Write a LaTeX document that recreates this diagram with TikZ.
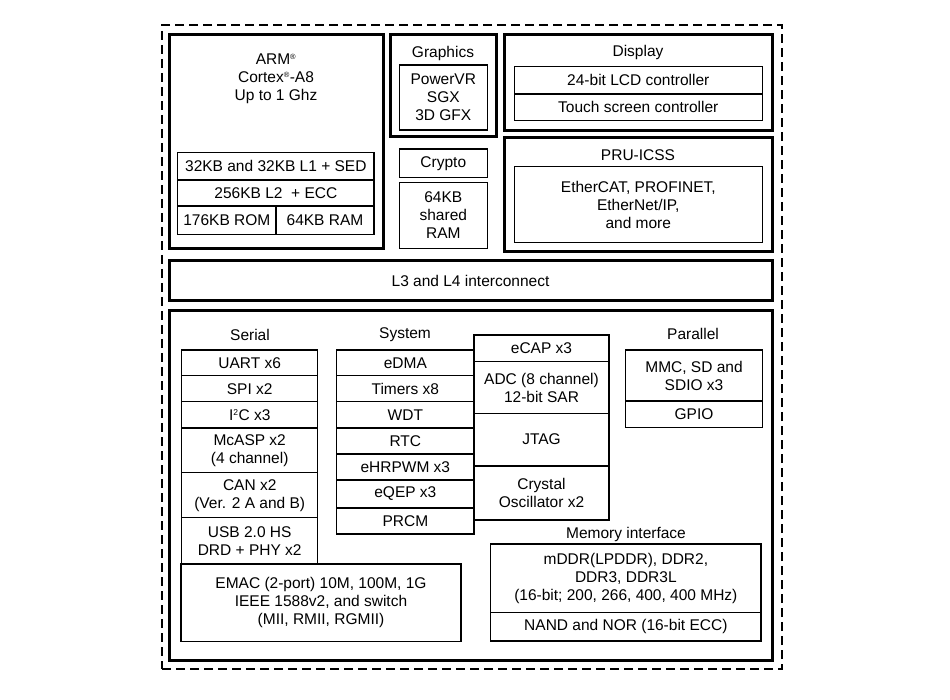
\documentclass[tikz,border=0pt]{standalone}
\usepackage{fontspec}
\setmainfont{Liberation Sans}
\newcommand\bx[7][]{%
  \pgfmathsetmacro\bxw{#5-#3}\pgfmathsetmacro\bxh{#6-#4}%
  \node[#1, minimum width=\bxw pt, minimum height=\bxh pt, inner sep=0pt, outer sep=0pt, align=center] (#2) at ({(#3+#5)/2},{(#4+#6)/2}) {#7};}
\newcommand\rsup{\textsuperscript{\fontsize{7.5}{7.5}\selectfont ®}}
\begin{document}
\begin{tikzpicture}[x=1pt,y=-1pt, font=\fontsize{15.5}{18}\selectfont,
  thickbox/.style={draw, line width=3pt},
  cell/.style={draw, line width=1.5pt},
  lbl/.style={inner sep=0pt, align=center}]
\useasboundingbox (0,0) rectangle (950,700);
\fill[white] (0,0) rectangle (950,700);
% outer dashed border
\bx[draw, dash pattern=on 9pt off 5pt, line width=1.5pt]{outer}{162}{25}{782}{669}{}
% ARM
\bx[thickbox]{arm}{169}{34.5}{383.5}{248.5}{}
\node[lbl] (armtxt) at (276,79) {ARM\rsup\\Cortex\rsup-A8\\Up to 1 Ghz};
\bx[cell]{lone}{177.7}{152.7}{374}{180}{32KB and 32KB L1 + SED}
\bx[cell]{ltwo}{177.7}{180}{374}{206}{256KB L2 \ + ECC}
\bx[cell]{rom}{177.7}{206}{276}{234.3}{176KB ROM}
\bx[cell]{ram}{276}{206}{374}{234.3}{64KB RAM}
% Graphics
\bx[thickbox]{gfx}{390}{34.5}{496.7}{136.7}{}
\node[lbl] (gfxlbl) at (443,53) {Graphics};
\bx[cell]{pvr}{399.3}{65}{487.3}{130}{PowerVR\\SGX\\3D GFX}
\bx[cell]{crypto}{399.3}{149}{487.3}{177.7}{Crypto}
\bx[cell]{shram}{399.3}{182.7}{487.3}{248.3}{64KB\\shared\\RAM}
% Display
\bx[thickbox]{disp}{504}{34.5}{772}{130.7}{}
\node[lbl] (displbl) at (638,52) {Display};
\bx[cell]{lcd}{514.3}{66.7}{762.3}{94}{24-bit LCD controller}
\bx[cell]{touch}{514.3}{94}{762.3}{120.7}{Touch screen controller}
% PRU-ICSS
\bx[thickbox]{pru}{504}{137.5}{772}{252}{}
\node[lbl] (prulbl) at (638,155) {PRU-ICSS};
\bx[cell]{prui}{514.3}{166.7}{762.3}{242.7}{EtherCAT, PROFINET,\\EtherNet/IP,\\and more}
% L3
\bx[thickbox]{lthree}{169}{261}{772}{300.7}{L3 and L4 interconnect}
% main peripheral box
\bx[thickbox]{periph}{169}{310.5}{772}{660.5}{}
% Serial
\node[lbl] (serlbl) at (250,335) {Serial};
\bx[cell]{uart}{181.7}{350}{317.7}{375.7}{UART x6}
\bx[cell]{spi}{181.7}{375.7}{317.7}{401.7}{SPI x2}
\bx[cell]{itc}{181.7}{401.7}{317.7}{428}{I\textsuperscript{\fontsize{8.5}{8.5}\selectfont 2}C x3}
\bx[cell]{mcasp}{181.7}{428}{317.7}{472.7}{McASP x2\\(4 channel)}
\bx[cell]{can}{181.7}{472.7}{317.7}{517.7}{CAN x2\\(Ver. 2 A and B)}
\bx[cell]{usb}{181.7}{517.7}{317.7}{564}{USB 2.0 HS\\DRD + PHY x2}
\bx[cell]{emac}{181}{564}{461}{641.7}{EMAC (2-port) 10M, 100M, 1G\\IEEE 1588v2, and switch\\(MII, RMII, RGMII)}
% System
\node[lbl] (syslbl) at (405,335) {System};
\bx[cell]{edma}{336.7}{350}{474}{375.7}{eDMA}
\bx[cell]{timers}{336.7}{375.7}{474}{401.7}{Timers x8}
\bx[cell]{wdt}{336.7}{401.7}{474}{428}{WDT}
\bx[cell]{rtc}{336.7}{428}{474}{454}{RTC}
\bx[cell]{ehrpwm}{336.7}{454}{474}{480}{eHRPWM x3}
\bx[cell]{eqep}{336.7}{480}{474}{508}{eQEP x3}
\bx[cell]{prcm}{336.7}{508}{474}{534}{PRCM}
\bx[cell]{ecap}{474}{335}{609}{361.7}{eCAP x3}
\bx[cell]{adc}{474}{361.7}{609}{413.3}{ADC (8 channel)\\12-bit SAR}
\bx[cell]{jtag}{474}{413.3}{609}{466}{JTAG}
\bx[cell]{xtal}{474}{466}{609}{520}{Crystal\\Oscillator x2}
% Parallel
\node[lbl] (parlbl) at (693,334) {Parallel};
\bx[cell]{mmc}{625.7}{350}{762.3}{401}{MMC, SD and\\SDIO x3}
\bx[cell]{gpio}{625.7}{401}{762.3}{427.7}{GPIO}
% Memory
\node[lbl] (memlbl) at (626,534) {Memory interface};
\bx[cell]{ddr}{490.7}{544}{761}{612.3}{mDDR(LPDDR), DDR2,\\DDR3, DDR3L\\(16-bit; 200, 266, 400, 400 MHz)}
\bx[cell]{nand}{490.7}{612.3}{761}{641}{NAND and NOR (16-bit ECC)}
\end{tikzpicture}
\end{document}
